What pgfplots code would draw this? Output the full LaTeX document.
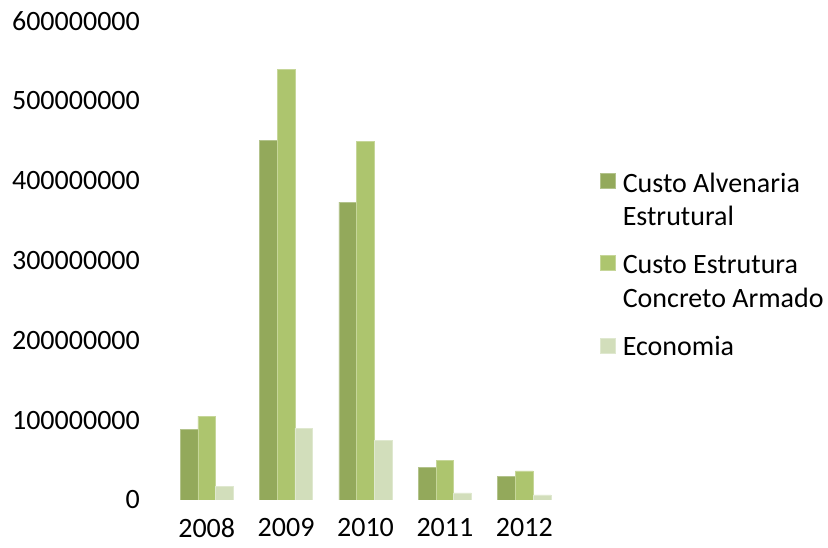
\documentclass[border=0pt]{standalone}
\usepackage{fontspec}
\setmainfont{Carlito}
\usepackage{pgfplots}
\pgfplotsset{compat=1.18}
\definecolor{cA}{HTML}{93A95B}
\definecolor{cB}{HTML}{ADC56E}
\definecolor{cC}{HTML}{D2DEBB}
\pgfplotsset{
  twoline/.style={legend image code/.code={\fill[##1] (0bp,13bp) rectangle (15bp,28bp);}},
  oneline/.style={legend image code/.code={\fill[##1] (0bp,-5bp) rectangle (15bp,10bp);}},
}
\begin{document}
\fontsize{28bp}{33.6bp}\selectfont
\begin{tikzpicture}
\useasboundingbox (0,0) rectangle (828bp,548bp);
\begin{axis}[
  at={(167bp,48bp)}, anchor=south west,
  scale only axis, width=397bp, height=479bp,
  ybar=0pt, bar width=17.7bp,
  xmin=-0.5, xmax=4.5, ymin=0, ymax=600000000,
  scaled y ticks=false,
  xtick={0,1,2,3,4}, xticklabels={2008,2009,2010,2011,2012},
  ytick={0,100000000,200000000,300000000,400000000,500000000,600000000},
  yticklabels={0,100000000,200000000,300000000,400000000,500000000,600000000},
  axis line style={draw=none}, tick style={draw=none}, major tick length=0pt,
  yticklabel style={anchor=east, inner sep=0pt, xshift=-27bp, font=\fontsize{28bp}{33.6bp}\selectfont},
  xticklabel style={anchor=north, inner sep=0pt, yshift=-18bp, font=\fontsize{28bp}{33.6bp}\selectfont},
  legend style={draw=none, fill=none, at={(1,1)}, anchor=north west, xshift=36bp, yshift=-151.5bp,
    inner sep=0pt, column sep=7bp, row sep=25bp,
    nodes={align=left, inner sep=0pt, font=\fontsize{28bp}{33.6bp}\selectfont}},
  legend cell align=left,
  every axis plot/.append style={line width=0.6bp},
]
\addplot[fill=cA, draw=cA!70!white, twoline] coordinates {(0,88000000) (1,450000000) (2,373000000) (3,41000000) (4,30000000)};
\addplot[fill=cB, draw=cB!70!white, twoline] coordinates {(0,105000000) (1,539000000) (2,449000000) (3,50000000) (4,36500000)};
\addplot[fill=cC, draw=cC!70!white, oneline] coordinates {(0,16700000) (1,90000000) (2,75000000) (3,9000000) (4,6500000)};
\addlegendentry{Custo Alvenaria\\Estrutural}
\addlegendentry{Custo Estrutura\\Concreto Armado}
\addlegendentry{Economia}
\end{axis}
\end{tikzpicture}
\end{document}
